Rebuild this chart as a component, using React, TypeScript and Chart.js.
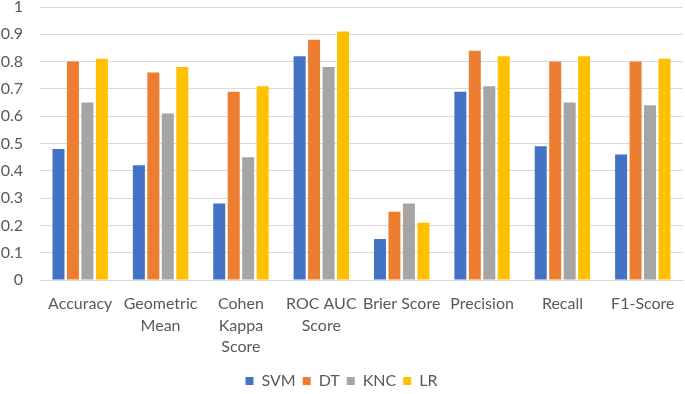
import React, { useEffect, useRef } from "react";
import { Chart, registerables } from "chart.js";

Chart.register(...registerables);

const categories: (string | string[])[] = [
  "Accuracy",
  ["Geometric", "Mean"],
  ["Cohen", "Kappa", "Score"],
  ["ROC AUC", "Score"],
  "Brier Score",
  "Precision",
  "Recall",
  "F1-Score",
];

const svm = [0.48, 0.42, 0.28, 0.82, 0.15, 0.69, 0.49, 0.46];
const dt = [0.8, 0.76, 0.69, 0.88, 0.25, 0.84, 0.8, 0.8];
const knc = [0.65, 0.61, 0.45, 0.78, 0.28, 0.71, 0.65, 0.64];
const lr = [0.81, 0.78, 0.71, 0.91, 0.21, 0.82, 0.82, 0.81];

const seriesNames = ["SVM", "DT", "KNC", "LR"];
const seriesColors = ["#4472C4", "#ED7D31", "#A5A5A5", "#FFC000"];

export default function App() {
  const ref = useRef<HTMLCanvasElement | null>(null);

  useEffect(() => {
    if (!ref.current) return;
    const family = "Lato, 'Open Sans', sans-serif";
    const values = [svm, dt, knc, lr];
    const chart = new Chart(ref.current, {
      type: "bar",
      data: {
        labels: categories,
        datasets: values.map((v, i) => ({
          label: seriesNames[i],
          data: v,
          backgroundColor: seriesColors[i],
          borderWidth: 0,
          categoryPercentage: 0.72,
          barPercentage: 0.83,
        })),
      },
      options: {
        animation: false,
        responsive: true,
        maintainAspectRatio: false,
        layout: { padding: { left: 0, right: 2, top: 0, bottom: -5 } },
        plugins: {
          legend: {
            position: "bottom",
            labels: {
              boxWidth: 8,
              boxHeight: 8,
              color: "#595959",
              font: { family, size: 16 },
              padding: 7,
            },
          },
          tooltip: { enabled: false },
        },
        scales: {
          x: {
            grid: { display: false, drawTicks: false },
            border: { color: "#D9D9D9" },
            ticks: {
              color: "#595959",
              font: { family, size: 16, lineHeight: 1.35 },
              maxRotation: 0,
              minRotation: 0,
              autoSkip: false,
              padding: 13,
            },
            afterFit: (scale: any) => {
              scale.paddingLeft = 0;
              scale.paddingRight = 0;
              scale.height = 86;
            },
          },
          y: {
            min: 0,
            max: 1,
            grid: { color: "#D9D9D9", drawTicks: false },
            border: { display: false },
            ticks: {
              stepSize: 0.1,
              color: "#595959",
              font: { family, size: 16 },
              padding: 17,
              callback: (v: any) => String(Math.round(Number(v) * 10) / 10),
            },
            afterFit: (scale: any) => {
              scale.width = 40;
              scale.paddingTop = 7;
              scale.paddingBottom = 0;
            },
          },
        },
      },
    });
    return () => chart.destroy();
  }, []);

  return (
    <div style={{ position: "fixed", left: 0, top: 0, width: 685, height: 394, background: "#fff" }}>
      <canvas ref={ref} />
    </div>
  );
}
